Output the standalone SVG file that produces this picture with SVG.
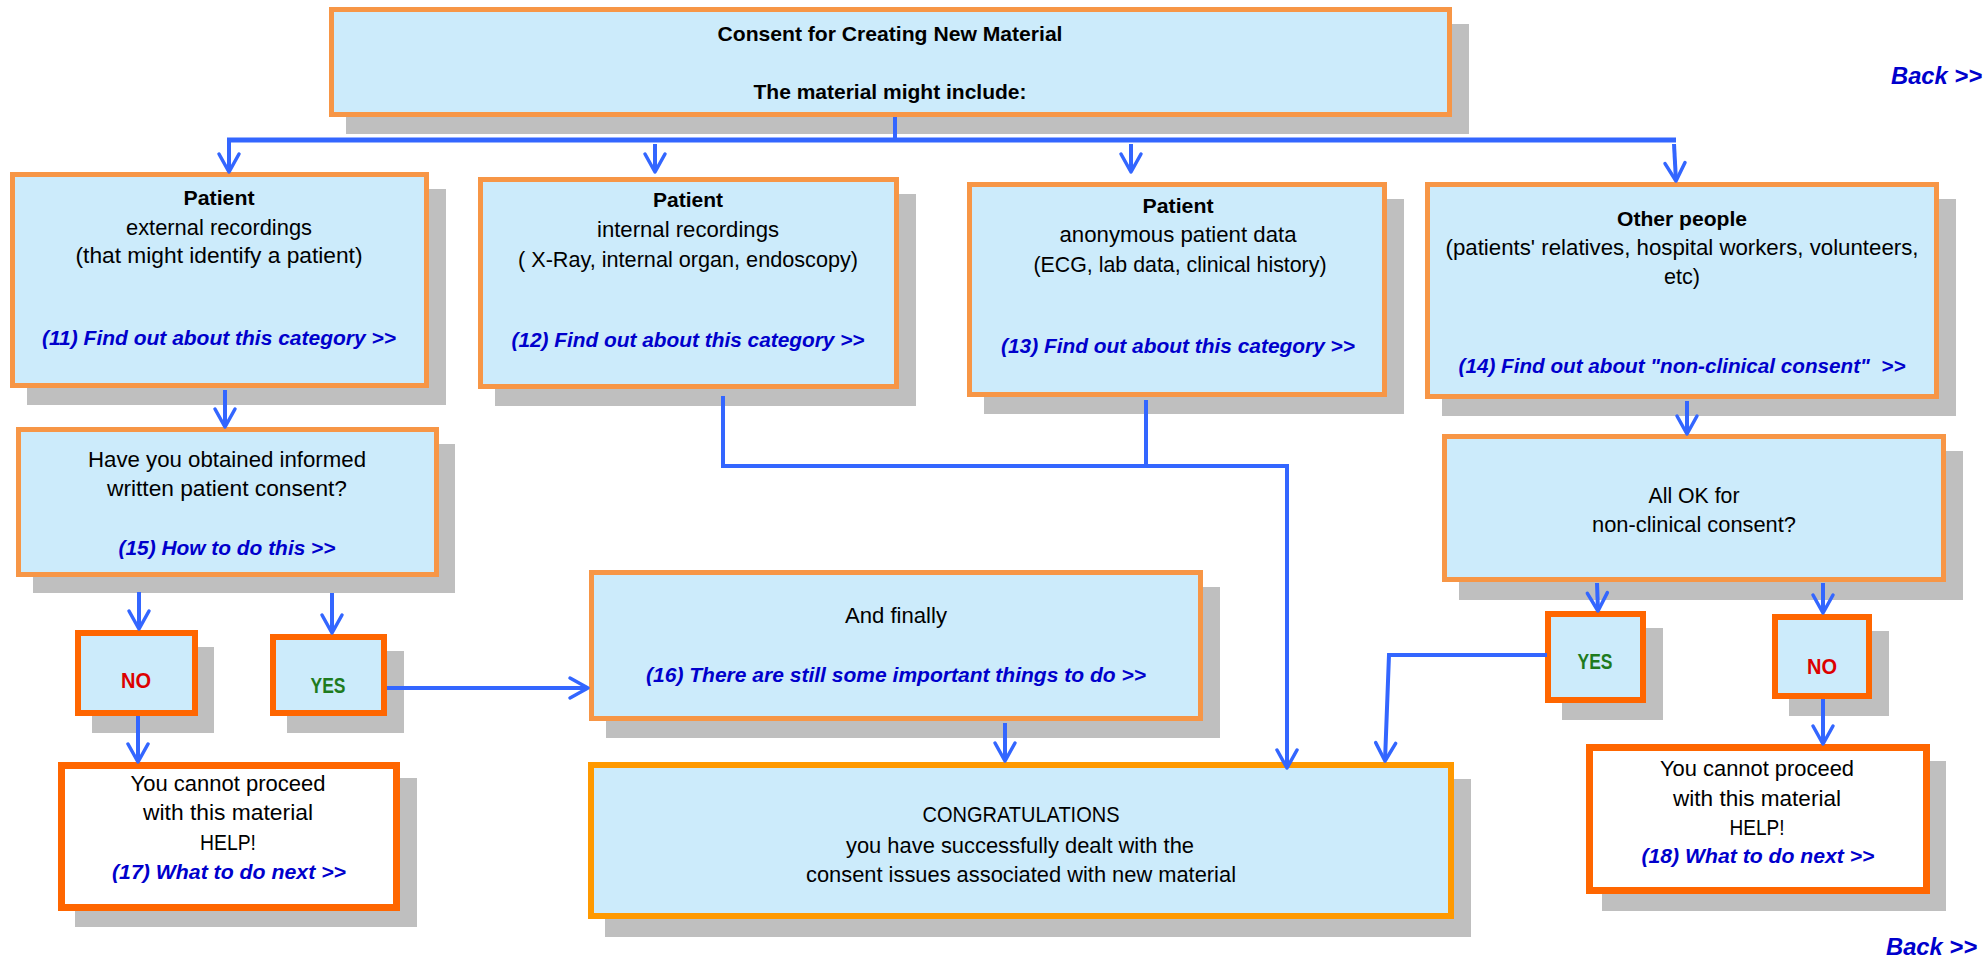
<svg xmlns="http://www.w3.org/2000/svg" width="1984" height="962" viewBox="0 0 1984 962">
<style>
.bg{fill:#FFFFFF}
.sh{fill:#BFBFBF}
.box{fill:#CCEBFB;stroke:#F79646;stroke-width:5}
.yn{fill:#CCEBFB;stroke:#FF6600;stroke-width:6}
.stop{fill:#FFFFFF;stroke:#FF6600;stroke-width:7}
.fin{fill:#CCEBFB;stroke:#FF9900;stroke-width:6}
text{font-family:"Liberation Sans",Arial,sans-serif;font-size:22px;fill:#000000;text-anchor:middle}
.b{font-weight:bold;font-size:21px}
.lk{font-weight:bold;font-style:italic;fill:#0000CC;font-size:21px}
.no{font-weight:bold;fill:#DD0000}
.yes{font-weight:bold;fill:#1E7B1E}
.back{font-weight:bold;font-style:italic;fill:#0000CC;font-size:23px;text-anchor:start}
.c{fill:none;stroke:#3366FF;stroke-width:4}
</style>
<defs>
<marker id="arr" markerUnits="userSpaceOnUse" orient="auto" refX="0" refY="0" markerWidth="40" markerHeight="40" viewBox="-20 -20 40 40" overflow="visible">
<path d="M-18,-10 L0,0 L-18,10" fill="none" stroke="#3366FF" stroke-width="3.5" stroke-linecap="round" stroke-linejoin="round"/>
</marker>
</defs>
<rect class="bg" x="0" y="0" width="1984" height="962"/>

<g id="top">
<rect class="sh" x="346" y="24" width="1123" height="110"/>
<rect class="box" x="331.5" y="9.5" width="1118" height="105"/>
<text class="b" x="890" y="41" textLength="345" lengthAdjust="spacingAndGlyphs">Consent for Creating New Material</text>
<text class="b" x="890" y="99" textLength="273" lengthAdjust="spacingAndGlyphs">The material might include:</text>
</g>

<g id="n11">
<rect class="sh" x="27" y="189" width="419" height="216"/>
<rect class="box" x="12.5" y="174.5" width="414" height="211"/>
<text class="b" x="219" y="205" textLength="71" lengthAdjust="spacingAndGlyphs">Patient</text>
<text x="219" y="235" textLength="186" lengthAdjust="spacingAndGlyphs">external recordings</text>
<text x="219" y="263" textLength="287" lengthAdjust="spacingAndGlyphs">(that might identify a patient)</text>
<text class="lk" x="219" y="345" textLength="354" lengthAdjust="spacingAndGlyphs">(11) Find out about this category &gt;&gt;</text>
</g>

<g id="n12">
<rect class="sh" x="495" y="194" width="421" height="212"/>
<rect class="box" x="480.5" y="179.5" width="416" height="207"/>
<text class="b" x="688" y="207" textLength="70" lengthAdjust="spacingAndGlyphs">Patient</text>
<text x="688" y="237" textLength="182" lengthAdjust="spacingAndGlyphs">internal recordings</text>
<text x="688" y="267" textLength="340" lengthAdjust="spacingAndGlyphs">( X-Ray, internal organ, endoscopy)</text>
<text class="lk" x="688" y="347" textLength="353" lengthAdjust="spacingAndGlyphs">(12) Find out about this category &gt;&gt;</text>
</g>

<g id="n13">
<rect class="sh" x="984" y="199" width="420" height="215"/>
<rect class="box" x="969.5" y="184.5" width="415" height="210"/>
<text class="b" x="1178" y="213" textLength="71" lengthAdjust="spacingAndGlyphs">Patient</text>
<text x="1178" y="242" textLength="237" lengthAdjust="spacingAndGlyphs">anonymous patient data</text>
<text x="1180" y="272" textLength="293" lengthAdjust="spacingAndGlyphs">(ECG, lab data, clinical history)</text>
<text class="lk" x="1178" y="353" textLength="354" lengthAdjust="spacingAndGlyphs">(13) Find out about this category &gt;&gt;</text>
</g>

<g id="n14">
<rect class="sh" x="1442" y="199" width="514" height="217"/>
<rect class="box" x="1427.5" y="184.5" width="509" height="212"/>
<text class="b" x="1682" y="226" textLength="130" lengthAdjust="spacingAndGlyphs">Other people</text>
<text x="1682" y="255" textLength="473" lengthAdjust="spacingAndGlyphs">(patients' relatives, hospital workers, volunteers,</text>
<text x="1682" y="284" textLength="36" lengthAdjust="spacingAndGlyphs">etc)</text>
<text class="lk" x="1682" y="373" textLength="447" lengthAdjust="spacingAndGlyphs" xml:space="preserve">(14) Find out about "non-clinical consent"  &gt;&gt;</text>
</g>

<g id="n15">
<rect class="sh" x="33" y="444" width="422" height="149"/>
<rect class="box" x="18.5" y="429.5" width="418" height="145"/>
<text x="227" y="467" textLength="278" lengthAdjust="spacingAndGlyphs">Have you obtained informed</text>
<text x="227" y="496" textLength="240" lengthAdjust="spacingAndGlyphs">written patient consent?</text>
<text class="lk" x="227" y="555" textLength="217" lengthAdjust="spacingAndGlyphs">(15) How to do this &gt;&gt;</text>
</g>

<g id="noL">
<rect class="sh" x="92" y="647" width="122" height="86"/>
<rect class="yn" x="78" y="633" width="117" height="80"/>
<text class="no" x="136" y="688" textLength="30" lengthAdjust="spacingAndGlyphs">NO</text>
</g>

<g id="yesL">
<rect class="sh" x="287" y="651" width="117" height="82"/>
<rect class="yn" x="273" y="637" width="111" height="76"/>
<text class="yes" x="328" y="693" textLength="35" lengthAdjust="spacingAndGlyphs">YES</text>
</g>

<g id="n17">
<rect class="sh" x="75" y="778" width="342" height="149"/>
<rect class="stop" x="61.5" y="765.5" width="335" height="142"/>
<text x="228" y="791" textLength="195" lengthAdjust="spacingAndGlyphs">You cannot proceed</text>
<text x="228" y="820" textLength="170" lengthAdjust="spacingAndGlyphs">with this material</text>
<text x="228" y="850" textLength="56" lengthAdjust="spacingAndGlyphs">HELP!</text>
<text class="lk" x="229" y="879" textLength="234" lengthAdjust="spacingAndGlyphs">(17) What to do next &gt;&gt;</text>
</g>

<g id="n16">
<rect class="sh" x="606" y="587" width="614" height="151"/>
<rect class="box" x="591.5" y="572.5" width="609" height="146"/>
<text x="896" y="623" textLength="102" lengthAdjust="spacingAndGlyphs">And finally</text>
<text class="lk" x="896" y="682" textLength="500" lengthAdjust="spacingAndGlyphs">(16) There are still some important things to do &gt;&gt;</text>
</g>

<g id="congrats">
<rect class="sh" x="605" y="779" width="866" height="158"/>
<rect class="fin" x="591" y="765" width="860" height="151"/>
<text x="1021" y="822" textLength="197" lengthAdjust="spacingAndGlyphs">CONGRATULATIONS</text>
<text x="1020" y="853" textLength="348" lengthAdjust="spacingAndGlyphs">you have successfully dealt with the</text>
<text x="1021" y="882" textLength="430" lengthAdjust="spacingAndGlyphs">consent issues associated with new material</text>
</g>

<g id="allok">
<rect class="sh" x="1459" y="451" width="504" height="149"/>
<rect class="box" x="1444.5" y="436.5" width="499" height="143"/>
<text x="1694" y="503" textLength="91" lengthAdjust="spacingAndGlyphs">All OK for</text>
<text x="1694" y="532" textLength="204" lengthAdjust="spacingAndGlyphs">non-clinical consent?</text>
</g>

<g id="yesR">
<rect class="sh" x="1562" y="628" width="101" height="92"/>
<rect class="yn" x="1548" y="614" width="95" height="86"/>
<text class="yes" x="1595" y="669" textLength="35" lengthAdjust="spacingAndGlyphs">YES</text>
</g>

<g id="noR">
<rect class="sh" x="1789" y="631" width="100" height="85"/>
<rect class="yn" x="1775" y="617" width="94" height="79"/>
<text class="no" x="1822" y="674" textLength="30" lengthAdjust="spacingAndGlyphs">NO</text>
</g>

<g id="n18">
<rect class="sh" x="1602" y="761" width="344" height="150"/>
<rect class="stop" x="1589.5" y="747.5" width="337" height="143"/>
<text x="1757" y="776" textLength="194" lengthAdjust="spacingAndGlyphs">You cannot proceed</text>
<text x="1757" y="806" textLength="168" lengthAdjust="spacingAndGlyphs">with this material</text>
<text x="1757" y="835" textLength="55" lengthAdjust="spacingAndGlyphs">HELP!</text>
<text class="lk" x="1758" y="863" textLength="233" lengthAdjust="spacingAndGlyphs">(18) What to do next &gt;&gt;</text>
</g>

<g id="backTop"><text class="back" x="1891" y="84" textLength="91" lengthAdjust="spacingAndGlyphs">Back &gt;&gt;</text></g>
<g id="backBottom"><text class="back" x="1886" y="955" textLength="91" lengthAdjust="spacingAndGlyphs">Back &gt;&gt;</text></g>

<g id="connectors">
<path class="c" d="M895,117 V140"/>
<path class="c" style="stroke-width:5" d="M227,140 H1676"/>
<path class="c" d="M229,140 V172" marker-end="url(#arr)"/>
<path class="c" d="M655,144 V172" marker-end="url(#arr)"/>
<path class="c" d="M1131,144 V172" marker-end="url(#arr)"/>
<path class="c" d="M1674,144 L1676,181" marker-end="url(#arr)"/>
<path class="c" d="M225,390 V427" marker-end="url(#arr)"/>
<path class="c" d="M139,592 V629" marker-end="url(#arr)"/>
<path class="c" d="M332,593 V633" marker-end="url(#arr)"/>
<path class="c" d="M138,716 V762" marker-end="url(#arr)"/>
<path class="c" d="M387,688 H588" marker-end="url(#arr)"/>
<path class="c" d="M723,396 V466 H1287 V768" marker-end="url(#arr)"/>
<path class="c" d="M1146,400 V466"/>
<path class="c" d="M1005,723 V761" marker-end="url(#arr)"/>
<path class="c" d="M1547,655 H1389 L1385,761" marker-end="url(#arr)"/>
<path class="c" d="M1687,401 V434" marker-end="url(#arr)"/>
<path class="c" d="M1597,583 L1598,611" marker-end="url(#arr)"/>
<path class="c" d="M1823,583 V613" marker-end="url(#arr)"/>
<path class="c" d="M1823,699 V744" marker-end="url(#arr)"/>
</g>
</svg>
